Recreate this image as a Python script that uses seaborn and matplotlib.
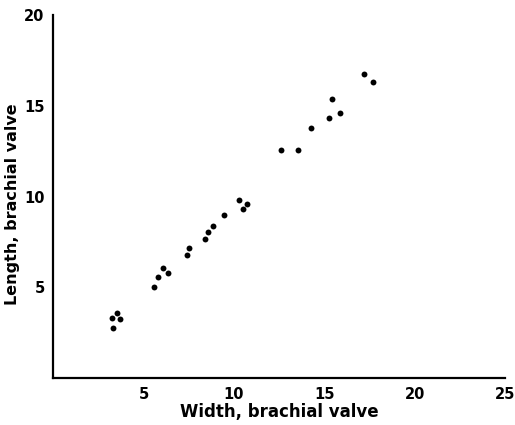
import matplotlib
matplotlib.use('Agg')
import matplotlib.pyplot as plt
import numpy as np
import pandas as pd
import seaborn as sns

# values
width = [3.28, 3.56, 3.71, 3.29, 5.57, 5.83, 6.07, 6.35, 7.43, 7.50, 8.41, 8.59,
         8.83, 9.46, 10.30, 10.48, 10.70, 12.61, 13.57, 14.28, 15.24, 15.43,
         15.89, 17.22, 17.67]
length = [3.29, 3.57, 3.26, 2.79, 5.02, 5.56, 6.09, 5.79, 6.79, 7.18, 7.65, 8.07,
          8.39, 9.00, 9.80, 9.31, 9.59, 12.56, 12.57, 13.80, 14.30, 15.39,
          14.61, 16.72, 16.33]
x_ticks = [5, 10, 15, 20, 25]
y_ticks = [5, 10, 15, 20]

df = pd.DataFrame({'width': width, 'length': length})

sns.set_style('white')
plt.rcParams['font.family'] = ['DejaVu Sans']

fig = plt.figure(figsize=(5.15, 4.25), dpi=100)
ax = fig.add_axes([0.103, 0.110, 0.878, 0.855])

sns.scatterplot(data=df, x='width', y='length', ax=ax, color='black',
                s=18, edgecolor='black', linewidth=0)

ax.set_xlim(0, 25)
ax.set_ylim(0, 20)
ax.set_xticks(x_ticks)
ax.set_yticks(y_ticks)
ax.tick_params(direction='in', length=7, width=1.6, labelsize=10.5, pad=6,
               colors='black')
for t in ax.get_xticklabels() + ax.get_yticklabels():
    t.set_fontweight('bold')

sns.despine(ax=ax)
for side in ['left', 'bottom']:
    ax.spines[side].set_linewidth(1.6)
    ax.spines[side].set_color('black')

ax.set_xlabel('Width, brachial valve', fontsize=12, fontweight='bold',
              color='black', labelpad=1)
ax.set_ylabel('Length, brachial valve', fontsize=11.5, fontweight='bold',
              color='black')
ax.yaxis.set_label_coords(-0.073, 0.48)

fig.savefig('out.png', dpi=100)
